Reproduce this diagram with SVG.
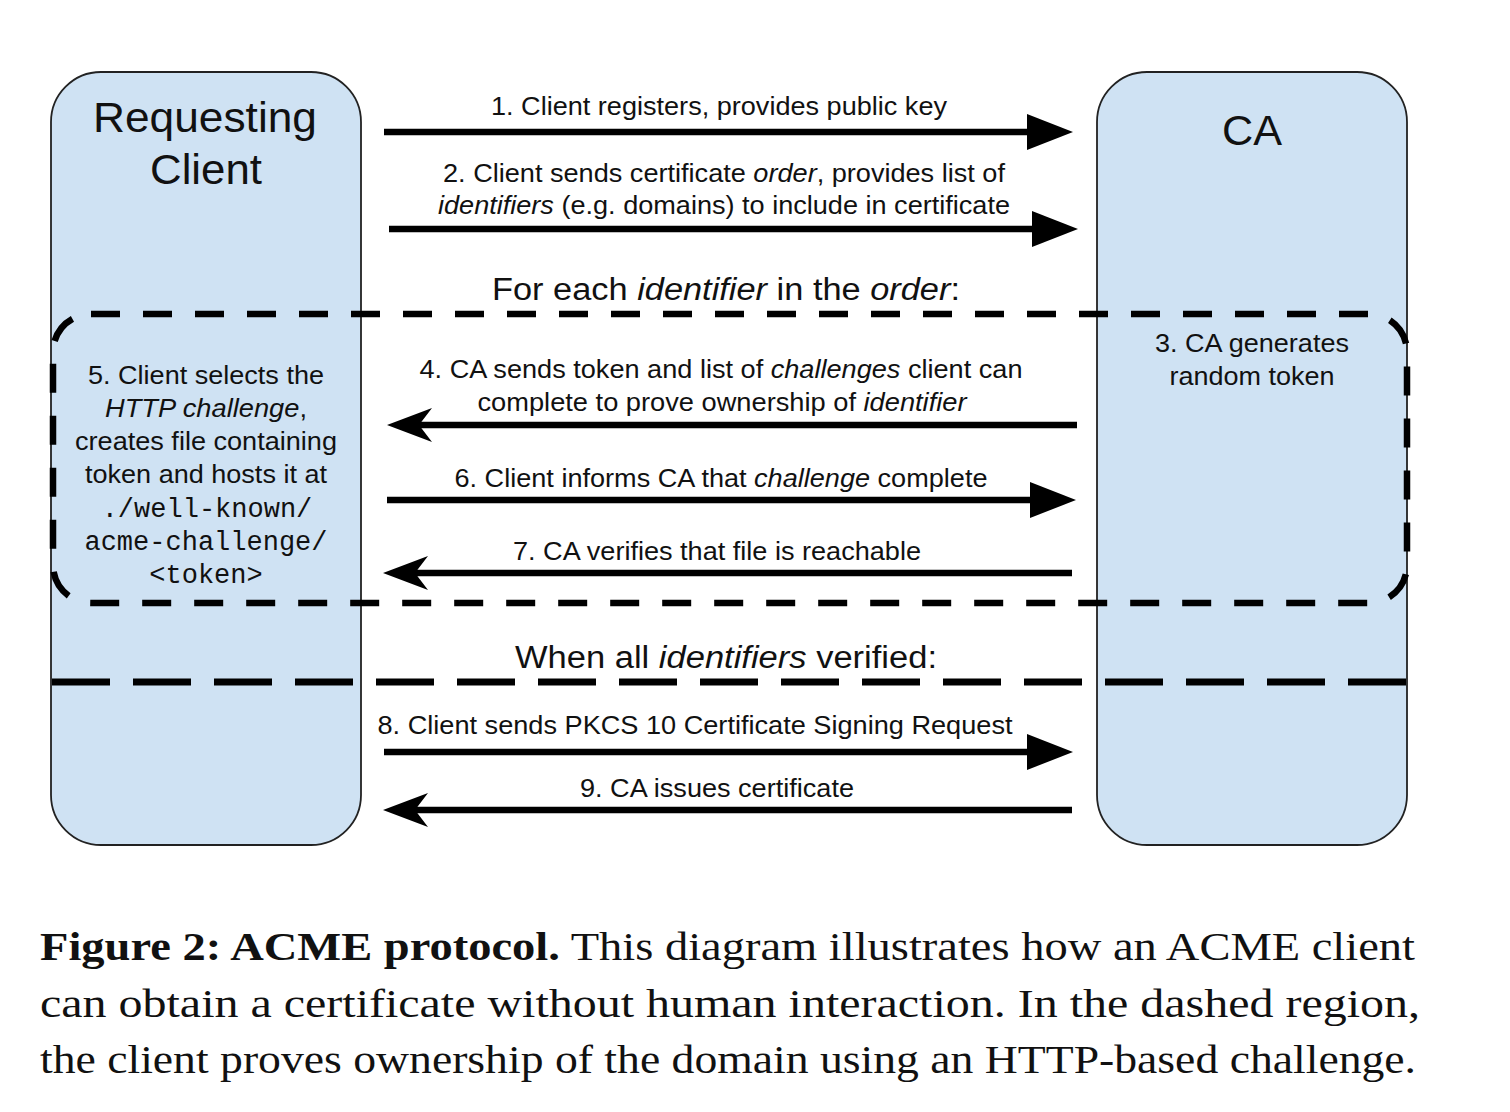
<svg xmlns="http://www.w3.org/2000/svg" width="1510" height="1112" viewBox="0 0 1510 1112">
<defs>
<style>
.box{fill:#cfe2f3;stroke:#222;stroke-width:1.8}
.t{font-family:"Liberation Sans",Arial,sans-serif;font-size:26px;fill:#111;text-anchor:middle}
.h{font-family:"Liberation Sans",Arial,sans-serif;font-size:43px;fill:#111;text-anchor:middle}
.s{font-family:"Liberation Sans",Arial,sans-serif;font-size:31px;fill:#111;text-anchor:middle}
.m{font-family:"Liberation Mono","DejaVu Sans Mono",monospace;font-size:27px;fill:#111;text-anchor:middle}
.cap{font-family:"Liberation Serif","Times New Roman",serif;font-size:40px;fill:#111}
.i{font-style:italic}
.arr{stroke:#000;stroke-width:6.5;fill:none}
.dash{stroke:#000;stroke-width:6.5;fill:none;stroke-dasharray:29 23}
.sep{stroke:#000;stroke-width:7;fill:none;stroke-dasharray:58 23}
</style>
<marker id="tri" markerUnits="userSpaceOnUse" markerWidth="50" markerHeight="40" refX="0" refY="18" orient="auto" overflow="visible">
<path d="M0,0 L46,18 L0,36 Z" fill="#000"/>
</marker>
<marker id="notch" markerUnits="userSpaceOnUse" markerWidth="50" markerHeight="40" refX="13" refY="17" orient="auto" overflow="visible">
<path d="M0,0 L45,17 L0,34 L13,17 Z" fill="#000"/>
</marker>
</defs>
<rect width="1510" height="1112" fill="#fff"/>

<g id="client">
<rect class="box" x="51" y="72" width="310" height="773" rx="50" ry="50"/>
<text class="h" x="205" y="132" textLength="224" lengthAdjust="spacingAndGlyphs">Requesting</text>
<text class="h" x="206" y="184" textLength="112" lengthAdjust="spacingAndGlyphs">Client</text>
</g>

<g id="ca">
<rect class="box" x="1097" y="72" width="310" height="773" rx="50" ry="50"/>
<text class="h" x="1252" y="145" textLength="60" lengthAdjust="spacingAndGlyphs">CA</text>
</g>

<g id="loop">
<rect class="dash" x="53" y="314" width="1354" height="289" rx="38" ry="38"/>
<text class="s" x="726" y="300" textLength="468" lengthAdjust="spacingAndGlyphs">For each <tspan class="i">identifier</tspan> in the <tspan class="i">order</tspan>:</text>
</g>

<g id="step3">
<text class="t" x="1252" y="352" textLength="194" lengthAdjust="spacingAndGlyphs">3. CA generates</text>
<text class="t" x="1252" y="385" textLength="165" lengthAdjust="spacingAndGlyphs">random token</text>
</g>

<g id="step5">
<text class="t" x="206" y="384" textLength="236" lengthAdjust="spacingAndGlyphs">5. Client selects the</text>
<text class="t" x="206" y="417" textLength="202" lengthAdjust="spacingAndGlyphs"><tspan class="i">HTTP challenge</tspan>,</text>
<text class="t" x="206" y="450" textLength="262" lengthAdjust="spacingAndGlyphs">creates file containing</text>
<text class="t" x="206" y="483" textLength="242" lengthAdjust="spacingAndGlyphs">token and hosts it at</text>
<text class="m" x="207" y="517">./well-known/</text>
<text class="m" x="206" y="550">acme-challenge/</text>
<text class="m" x="206" y="583">&lt;token&gt;</text>
</g>

<g id="separator">
<line class="sep" x1="52" y1="682" x2="1407" y2="682"/>
<text class="s" x="726" y="668" textLength="422" lengthAdjust="spacingAndGlyphs">When all <tspan class="i">identifiers</tspan> verified:</text>
</g>

<g id="connectors">
<line class="arr" x1="384" y1="132" x2="1027" y2="132" marker-end="url(#tri)"/>
<text class="t" x="719" y="115" textLength="456" lengthAdjust="spacingAndGlyphs">1. Client registers, provides public key</text>

<line class="arr" x1="389" y1="229" x2="1032" y2="229" marker-end="url(#tri)"/>
<text class="t" x="724" y="182" textLength="562" lengthAdjust="spacingAndGlyphs">2. Client sends certificate <tspan class="i">order</tspan>, provides list of</text>
<text class="t" x="724" y="214" textLength="572" lengthAdjust="spacingAndGlyphs"><tspan class="i">identifiers</tspan> (e.g. domains) to include in certificate</text>

<line class="arr" x1="1077" y1="425" x2="419" y2="425" marker-end="url(#notch)"/>
<text class="t" x="721" y="378" textLength="603" lengthAdjust="spacingAndGlyphs">4. CA sends token and list of <tspan class="i">challenges</tspan> client can</text>
<text class="t" x="722" y="411" textLength="489" lengthAdjust="spacingAndGlyphs">complete to prove ownership of <tspan class="i">identifier</tspan></text>

<line class="arr" x1="387" y1="500" x2="1030" y2="500" marker-end="url(#tri)"/>
<text class="t" x="721" y="487" textLength="533" lengthAdjust="spacingAndGlyphs">6. Client informs CA that <tspan class="i">challenge</tspan> complete</text>

<line class="arr" x1="1072" y1="573" x2="415" y2="573" marker-end="url(#notch)"/>
<text class="t" x="717" y="560" textLength="408" lengthAdjust="spacingAndGlyphs">7. CA verifies that file is reachable</text>

<line class="arr" x1="384" y1="752" x2="1027" y2="752" marker-end="url(#tri)"/>
<text class="t" x="695" y="734" textLength="635" lengthAdjust="spacingAndGlyphs">8. Client sends PKCS 10 Certificate Signing Request</text>

<line class="arr" x1="1072" y1="810" x2="415" y2="810" marker-end="url(#notch)"/>
<text class="t" x="717" y="797" textLength="274" lengthAdjust="spacingAndGlyphs">9. CA issues certificate</text>
</g>

<g id="caption">
<text class="cap" x="40" y="960" textLength="1375" lengthAdjust="spacingAndGlyphs"><tspan font-weight="bold">Figure 2: ACME protocol.</tspan> This diagram illustrates how an ACME client</text>
<text class="cap" x="40" y="1017" textLength="1380" lengthAdjust="spacingAndGlyphs">can obtain a certificate without human interaction. In the dashed region,</text>
<text class="cap" x="40" y="1073" textLength="1376" lengthAdjust="spacingAndGlyphs">the client proves ownership of the domain using an HTTP-based challenge.</text>
</g>
</svg>
